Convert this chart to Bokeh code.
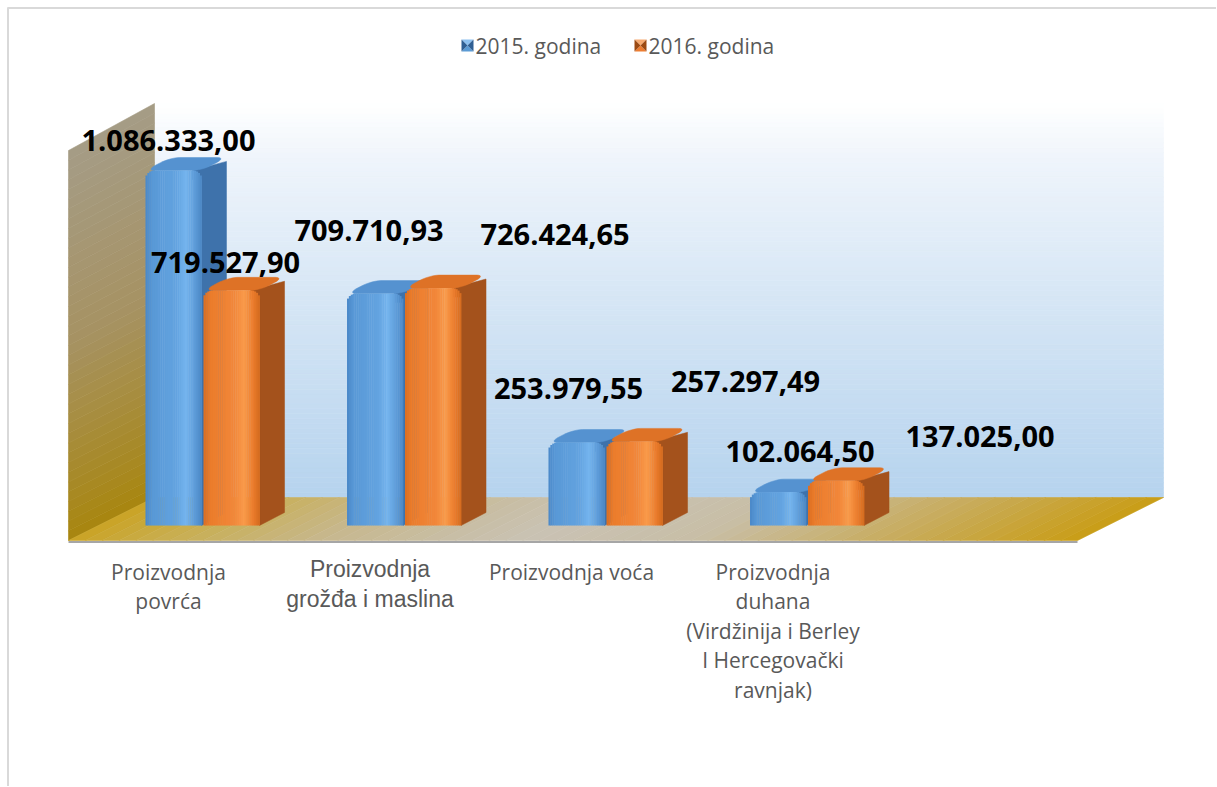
import math
from bokeh.plotting import figure
from bokeh.models import Range1d
from bokeh.embed import file_html
from bokeh.resources import INLINE
from bokeh.core.properties import value

# ---------------- data ----------------
categories = [
    "Proizvodnja\npovrća",
    "Proizvodnja\ngrožđa i maslina",
    "Proizvodnja voća",
    "Proizvodnja\nduhana\n(Virdžinija i Berley\nI Hercegovački\nravnjak)",
]
series_names = ["2015. godina", "2016. godina"]
values_2015 = [1086333.00, 709710.93, 253979.55, 102064.50]
values_2016 = [719527.90, 726424.65, 257297.49, 137025.00]

# ---------------- layout (pixel helpers) ----------------
W, H = 1216, 786
PX_PER_CAT = 201.5
PX_PER_VAL = 3.268e-4
CAT0_PX = 202.0
BASE_PX = 525.0


def ux(px):
    return (px - CAT0_PX) / PX_PER_CAT


def uy(py):
    return (BASE_PX - py) / PX_PER_VAL


def dxu(d):
    return d / PX_PER_CAT


def dyu(d):
    return d / PX_PER_VAL


def fmt(v):
    s = f"{v:,.2f}"
    return s.replace(",", "X").replace(".", ",").replace("X", ".")


def hex2rgb(h):
    h = h.lstrip("#")
    return tuple(int(h[i:i + 2], 16) for i in (0, 2, 4))


def lerp(stops, t):
    t = max(0.0, min(1.0, t))
    for (t0, c0), (t1, c1) in zip(stops[:-1], stops[1:]):
        if t0 <= t <= t1:
            f = 0 if t1 == t0 else (t - t0) / (t1 - t0)
            a, b = hex2rgb(c0), hex2rgb(c1)
            return "#%02x%02x%02x" % tuple(int(round(a[k] + (b[k] - a[k]) * f)) for k in range(3))
    return stops[-1][1]


def rounded_rect(ru, rw, n=6):
    """Rounded unit square in face coordinates (u across, w in depth)."""
    pts = []
    corners = [(1 - ru, rw, -90), (1 - ru, 1 - rw, 0), (ru, 1 - rw, 90), (ru, rw, 180)]
    for cu, cw, a0 in corners:
        for j in range(n + 1):
            a = math.radians(a0 + 90 * j / n)
            pts.append((cu + ru * math.cos(a), cw + rw * math.sin(a)))
    return pts


p = figure(width=W, height=H,
           x_range=Range1d(ux(0), ux(W)), y_range=Range1d(uy(H), uy(0)),
           output_backend="svg", toolbar_location=None, min_border=0,
           x_axis_location=None, y_axis_location=None)
p.grid.visible = False
p.outline_line_color = None
p.background_fill_color = "white"
p.border_fill_color = "white"

# chart border (left / top)
p.line([ux(7.5), ux(7.5)], [uy(7), uy(H)], line_color="#d9d9d9", line_width=2)
p.line([ux(7), ux(W)], [uy(7.5), uy(7.5)], line_color="#d9d9d9", line_width=2)

# ---------------- back wall ----------------
wall_stops = [(0, "#ffffff"), (0.15, "#eef4fb"), (0.5, "#d6e6f5"), (1, "#b6d3ee")]
top_py, bot_py = 103, 497
n = 80
ls, rs, ts, bs, cs = [], [], [], [], []
for k in range(n):
    y0 = top_py + (bot_py - top_py) * k / n
    y1 = top_py + (bot_py - top_py) * (k + 1) / n
    ls.append(ux(154)); rs.append(ux(1163)); ts.append(uy(y0)); bs.append(uy(y1))
    cs.append(lerp(wall_stops, (k + 0.5) / n))
p.quad(left=ls, right=rs, top=ts, bottom=bs, fill_color=cs, line_color=cs, line_width=0.6)

# ---------------- left wall ----------------
lw_stops = [(0, "#a59c86"), (0.5, "#a69262"), (1, "#a8860f")]
xs, ys, cs = [], [], []
n = 40
for k in range(n):
    s0, s1 = k / n, (k + 1) / n
    xs.append([ux(68), ux(154), ux(154), ux(68)])
    ys.append([uy(150 + s0 * 390), uy(103 + s0 * 394), uy(103 + s1 * 394), uy(150 + s1 * 390)])
    cs.append(lerp(lw_stops, (k + 0.5) / n))
p.patches(xs, ys, fill_color=cs, line_color=cs, line_width=0.6)

# ---------------- floor ----------------
fl_stops = [(0, "#caa324"), (0.08, "#c9ad4a"), (0.25, "#c7b88e"), (0.45, "#c9c2b4"),
            (0.62, "#c8bea6"), (0.8, "#c8ad62"), (1, "#c99d16")]
xs, ys, cs = [], [], []
n = 60
for k in range(n):
    t0, t1 = k / n, (k + 1) / n
    xs.append([ux(68 + t0 * 1009), ux(68 + t1 * 1009), ux(154 + t1 * 1009), ux(154 + t0 * 1009)])
    ys.append([uy(540), uy(540), uy(497), uy(497)])
    cs.append(lerp(fl_stops, (k + 0.5) / n))
p.patches(xs, ys, fill_color=cs, line_color=cs, line_width=0.6)
p.line([ux(68), ux(1077)], [uy(541.5), uy(541.5)], line_color="#a6a6a6", line_width=2)

# ---------------- bars ----------------
front_stops = [
    [(0, "#4a88c8"), (0.12, "#5898d6"), (0.55, "#63a3e0"), (0.72, "#74b4ee"), (0.88, "#5e9cd9"), (1, "#4b87c4")],
    [(0, "#dc6e20"), (0.12, "#eb7c2b"), (0.55, "#f2873a"), (0.72, "#f99a4a"), (0.88, "#ec7d2d"), (1, "#d46a1e")],
]
top_colors = ["#5592d0", "#de7226"]
side_colors = ["#3e72ab", "#a4521c"]
BAR_W = 0.278
GAP = 0.005
DX = dxu(25)
DY = dyu(13)
RADIUS = 9.0
NS = 30
top_shape = rounded_rect(RADIUS / (BAR_W * PX_PER_CAT), 0.4)

label_off = [(-5, -30), (-6, -28), (-6, -63), (122, -54), (-8, -54), (111, -60), (22, -41), (144, -44)]
lx, ly, lt = [], [], []
li = 0
for i in range(len(categories)):
    for s, vals in enumerate([values_2015, values_2016]):
        v = vals[i]
        L = i - GAP - BAR_W if s == 0 else i + GAP
        R = L + BAR_W
        rx, ry = dxu(RADIUS), dyu(RADIUS)
        # side face (also fills the rounded front-right corner)
        p.patch([R, R + DX, R + DX, R - rx, R - rx, R],
                [0, DY, v + DY * 0.7, v, v - ry, v - ry],
                fill_color=side_colors[s], line_color=side_colors[s], line_width=0.5)
        # top face (rounded)
        tx = [L + uu * BAR_W + ww * DX for uu, ww in top_shape]
        ty = [v + ww * DY for uu, ww in top_shape]
        p.patch(tx, ty, fill_color=top_colors[s], line_color=top_colors[s], line_width=0.5)
        # front face (gradient strips with rounded top corners)
        fl, fr, ft, fb, fc = [], [], [], [], []
        wpx = BAR_W * PX_PER_CAT
        for k in range(NS):
            u = (k + 0.5) / NS
            d = min(u, 1 - u) * wpx
            drop = RADIUS - math.sqrt(max(0.0, RADIUS ** 2 - (RADIUS - d) ** 2)) if d < RADIUS else 0.0
            fl.append(L + BAR_W * k / NS); fr.append(L + BAR_W * (k + 1) / NS + dxu(0.4))
            ft.append(v - dyu(drop)); fb.append(0)
            fc.append(lerp(front_stops[s], u))
        p.quad(left=fl, right=fr, top=ft, bottom=fb, fill_color=fc, line_color=None)
        ox, oy = label_off[li]
        lx.append((L + R) / 2 + dxu(ox)); ly.append(v + dyu(-oy)); lt.append(fmt(v))
        li += 1

p.text(x=lx, y=ly, text=lt, text_font=value("Open Sans"), text_font_style="bold",
       text_font_size="29px", text_align="center", text_baseline="middle", text_color="black")

# ---------------- category labels ----------------
for i, cat in enumerate(categories):
    lines = cat.split("\n")
    big = (i == 1)
    first = 568 if big else 571
    step = 30 if big else 29.5
    p.text(x=[i + dxu(-34)] * len(lines), y=[uy(first + step * j) for j in range(len(lines))],
           text=lines, text_font=value("Liberation Sans" if big else "Open Sans"),
           text_font_size="23px" if big else "21px", text_align="center",
           text_baseline="middle", text_color="#595959")

# ---------------- legend ----------------
leg_colors = [("#5b9bd5", "#2f5f94", "#8cc0f0"), ("#ed7d31", "#9c4a12", "#f7aa70")]
leg_x = [461, 634]
for s, name in enumerate(series_names):
    base, dark, light = leg_colors[s]
    x0, x1 = ux(leg_x[s]), ux(leg_x[s] + 12)
    y0, y1 = uy(51), uy(39)
    xc, yc = (x0 + x1) / 2, (y0 + y1) / 2
    p.patches([[x0, x1, xc], [x0, x1, xc], [x0, x0, xc], [x1, x1, xc]],
              [[y1, y1, yc], [y0, y0, yc], [y0, y1, yc], [y0, y1, yc]],
              fill_color=[light, base, dark, dark], line_color=None)
    p.text(x=[ux(leg_x[s] + 14)], y=[uy(45)], text=[name], text_font=value("Open Sans"),
           text_font_size="21px", text_align="left", text_baseline="middle", text_color="#595959")

open("out.html", "w").write(file_html(p, INLINE))
